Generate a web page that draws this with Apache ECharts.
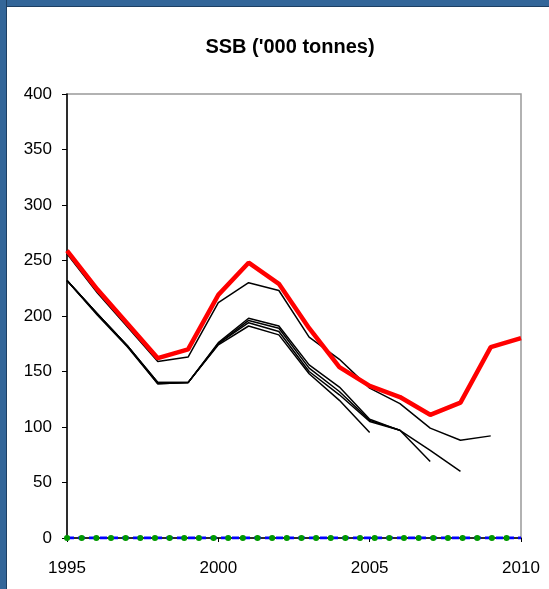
<!DOCTYPE html>
<html>
<head>
<meta charset="utf-8">
<script src="https://cdn.jsdelivr.net/npm/echarts@6/dist/echarts.min.js"></script>
<style>
html,body{margin:0;padding:0;background:#fff;}
#frame{position:absolute;left:0;top:0;width:549px;height:589px;background:#fff;}
#topbar{position:absolute;left:0;top:0;width:549px;height:7px;background:#336699;border-bottom:1px solid #1d3f63;box-sizing:border-box;}
#leftbar{position:absolute;left:0;top:0;width:7px;height:589px;background:#336699;border-right:1px solid #1d3f63;box-sizing:border-box;}
#chart{position:absolute;left:0;top:0;width:549px;height:589px;}
</style>
</head>
<body>
<div id="frame"></div>
<div id="chart"></div>
<div id="topbar"></div>
<div id="leftbar"></div>
<script>
const years = [1995,1996,1997,1998,1999,2000,2001,2002,2003,2004,2005,2006,2007,2008,2009,2010];
const run2005 = [232,202,173,140,140,174,191,183,148,124,95];
const run2006 = [232,202,173,140,140,175,194,186,150,129,105,97];
const run2007 = [232,202,173,139,140,175,196,189,153,132,106,97,69];
const run2008 = [232,201,172,139,140,176,198,191,156,136,107,97,79,60];
const run2009 = [256,221,190,159,163,212,230,223,181,161,135,121,99,88,92];
const run2010 = [259,224,193,162,170,219,248,229,189,154,137,127,111,122,172,180];
const zeroA = [0,0,0,0,0,0,0,0,0,0,0,0,0,0,0,0];
const zeroB = [0,0,0,0,0,0,0,0,0,0,0,0,0,0,0,0];
const yTicks = [0,50,100,150,200,250,300,350,400];
const xTicks = [1995,2000,2005,2010];

function pairs(arr){ return arr.map((v,i)=>[years[i],v]); }
function blackRun(arr,w){
  return {type:'line',data:pairs(arr),symbol:'none',smooth:false,z:3,
    lineStyle:{color:'#000',width:w},animation:false};
}
const FONT = 'Liberation Sans, Arial, sans-serif';
const chart = echarts.init(document.getElementById('chart'),null,{renderer:'canvas'});
chart.setOption({
  backgroundColor:'transparent',
  animation:false,
  title:{text:"SSB ('000 tonnes)",left:285,textAlign:'center',top:32,
    textStyle:{fontFamily:FONT,fontSize:20,fontWeight:'bold',color:'#000'}},
  grid:{left:67,top:94,right:28,bottom:51,show:true,borderColor:'#999',borderWidth:1.5,backgroundColor:'#fff'},
  xAxis:{type:'value',min:xTicks[0],max:xTicks[xTicks.length-1],interval:5,
    axisLine:{show:true,onZero:false,lineStyle:{color:'#000',width:1.5}},
    axisTick:{show:true,length:4,lineStyle:{color:'#000'}},
    splitLine:{show:false},
    axisLabel:{color:'#000',fontSize:17,fontFamily:FONT,margin:22,
      formatter:v=>String(v)}},
  yAxis:{type:'value',min:yTicks[0],max:yTicks[yTicks.length-1],interval:50,
    axisLine:{show:true,lineStyle:{color:'#000',width:1.5}},
    axisTick:{show:true,length:5,lineStyle:{color:'#000'}},
    splitLine:{show:false},
    axisLabel:{color:'#000',fontSize:17,fontFamily:FONT,margin:15}},
  series:[
    blackRun(run2005,1.5),
    blackRun(run2006,1.5),
    blackRun(run2007,1.5),
    blackRun(run2008,1.5),
    blackRun(run2009,1.5),
    {type:'line',data:pairs(run2010),symbol:'none',z:4,lineStyle:{color:'#ff0000',width:4.5},animation:false},
    {type:'line',data:pairs(zeroA),symbol:'none',z:5,lineStyle:{color:'#0000ff',width:3,type:[7,4]},animation:false},
    {type:'line',data:pairs(zeroB),symbol:'none',z:6,lineStyle:{color:'#009900',width:6,type:[0.1,14.55],cap:'round'},animation:false}
  ]
});
</script>
</body>
</html>
